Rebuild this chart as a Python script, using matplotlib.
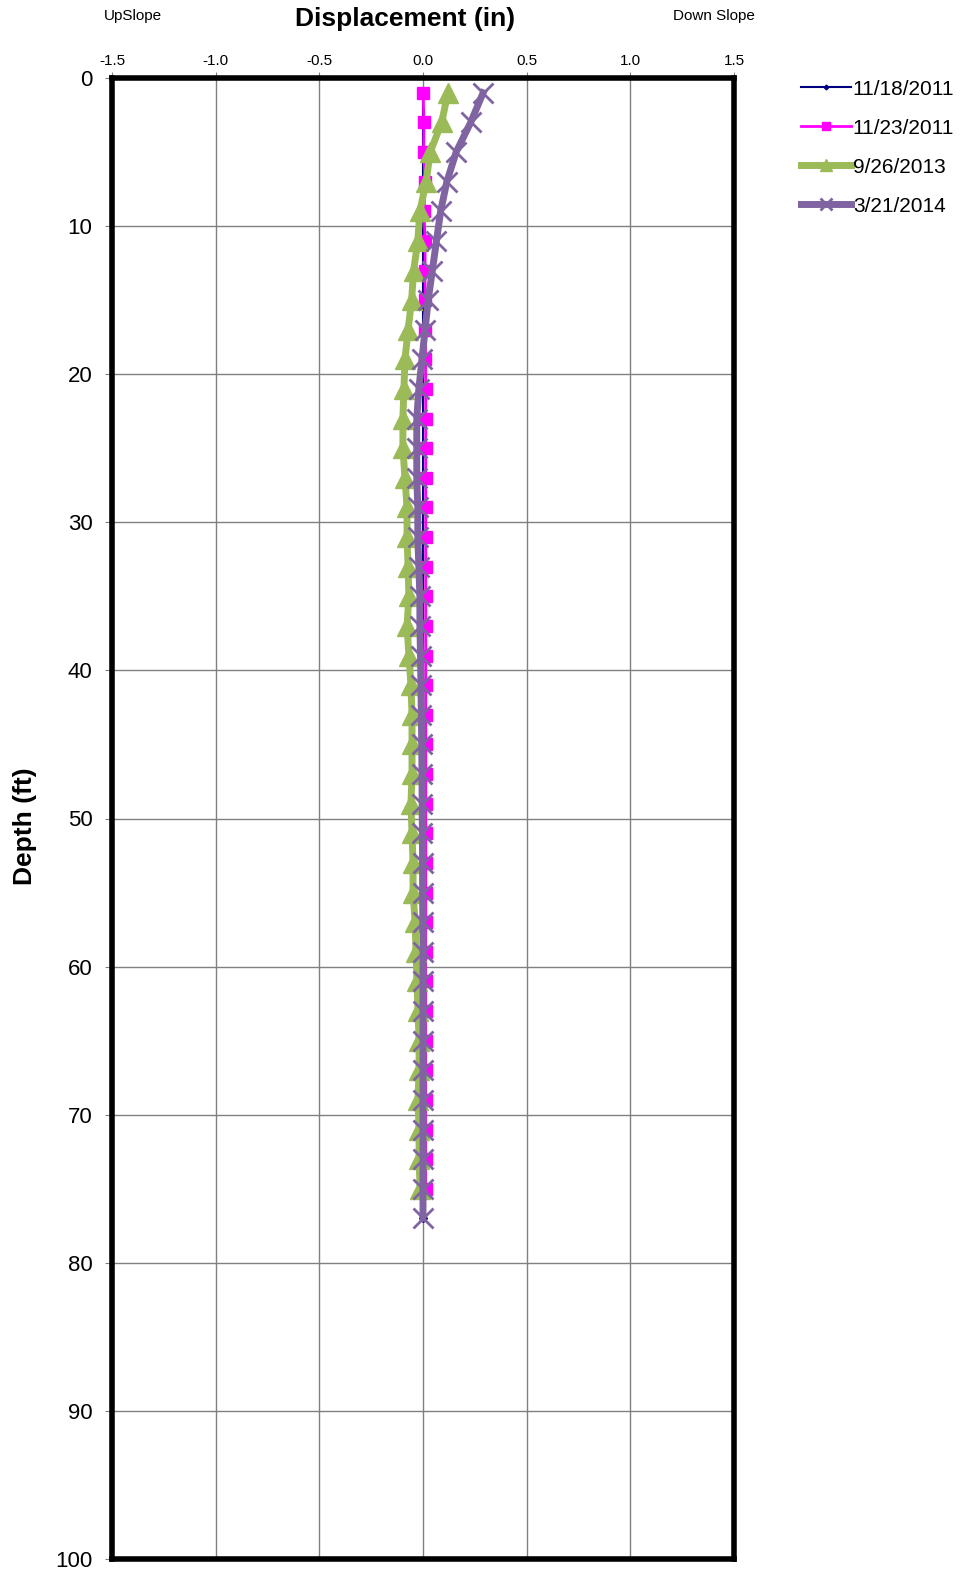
import numpy as np
import matplotlib.pyplot as plt

plt.rcParams['font.family'] = ['Liberation Sans', 'DejaVu Sans']

# depth readings (ft)
depth_a = list(range(1, 78, 2))          # 1..77
depth_b = list(range(1, 76, 2))          # 1..75

# 11/18/2011 is the baseline reading
disp_1118 = [0.0] * len(depth_a)

disp_1123 = [0.0, 0.005, 0.003, 0.01, 0.005, 0.01, 0.01, 0.01, 0.012, 0.012,
             0.013, 0.013, 0.013, 0.013, 0.013, 0.013, 0.013, 0.013, 0.013, 0.013,
             0.013, 0.013, 0.013, 0.013, 0.013, 0.013, 0.013, 0.013, 0.013, 0.013,
             0.013, 0.013, 0.013, 0.013, 0.013, 0.013, 0.013, 0.013]

disp_0926 = [0.12, 0.09, 0.035, 0.015, -0.015, -0.025, -0.045, -0.055, -0.072, -0.087,
             -0.092, -0.097, -0.097, -0.087, -0.077, -0.077, -0.072, -0.068, -0.077, -0.068,
             -0.058, -0.053, -0.053, -0.053, -0.058, -0.053, -0.048, -0.048, -0.038, -0.034,
             -0.029, -0.024, -0.019, -0.019, -0.024, -0.019, -0.019, -0.014]

disp_0321 = [0.29, 0.23, 0.16, 0.115, 0.085, 0.065, 0.045, 0.025, 0.01, -0.005,
             -0.02, -0.03, -0.03, -0.03, -0.025, -0.025, -0.02, -0.015, -0.015, -0.012,
             -0.01, -0.008, -0.006, -0.005, -0.004, -0.003, -0.002, -0.002, -0.001, 0.0,
             0.0, 0.0, 0.0, 0.0, 0.0, 0.0, 0.0, 0.0, 0.0]

x_ticks = [-1.5, -1.0, -0.5, 0.0, 0.5, 1.0, 1.5]
y_ticks = list(range(0, 101, 10))

fig = plt.figure(figsize=(9.6, 15.72), dpi=100)
ax = fig.add_axes([112 / 960, 1 - 1559 / 1572, 622 / 960, 1481 / 1572])

ax.plot(disp_1118, depth_a, color='#000080', lw=1.5, marker='D', ms=4,
        label='11/18/2011', zorder=2)
ax.plot(disp_1123, depth_b, color='#FF00FF', lw=2, marker='s', ms=9,
        label='11/23/2011', zorder=3)
ax.plot(disp_0926, depth_b, color='#9BBB59', lw=5, marker='^', ms=14,
        label='9/26/2013', zorder=4)
ax.plot(disp_0321, depth_a, color='#8064A2', lw=5, marker='x', ms=14, mew=2,
        label='3/21/2014', zorder=5)

ax.set_xlim(-1.5, 1.5)
ax.set_ylim(100, 0)
ax.set_xticks(x_ticks)
ax.set_xticklabels([f"{v:.1f}" for v in x_ticks], fontsize=11)
ax.set_yticks(y_ticks)
ax.set_yticklabels([str(v) for v in y_ticks], fontsize=16)
ax.xaxis.tick_top()
ax.tick_params(axis='x', length=4, pad=3, color='#808080')
ax.tick_params(axis='y', length=5, pad=9, color='#808080')
ax.grid(True, color='#808080', lw=1)
ax.set_axisbelow(True)
for s in ax.spines.values():
    s.set_linewidth(4)
    s.set_color('black')

fig.text(405 / 960, 1 - 19 / 1572, 'Displacement (in)', ha='center', va='center',
         fontsize=19, fontweight='bold')
fig.text(133 / 960, 1 - 16 / 1572, 'UpSlope', ha='center', va='center', fontsize=11)
fig.text(714 / 960, 1 - 16 / 1572, 'Down Slope', ha='center', va='center', fontsize=11)
fig.text(25 / 960, 1 - 826 / 1572, 'Depth (ft)', ha='center', va='center',
         fontsize=19, fontweight='bold', rotation=90)

fig.legend(loc='upper left', bbox_to_anchor=(782 / 960, 1 - 61 / 1572),
           frameon=False, fontsize=15, handlelength=2.4, handletextpad=0.1,
           labelspacing=0.96, markerscale=0.6)

fig.savefig('out.png', dpi=100)
plt.close(fig)
